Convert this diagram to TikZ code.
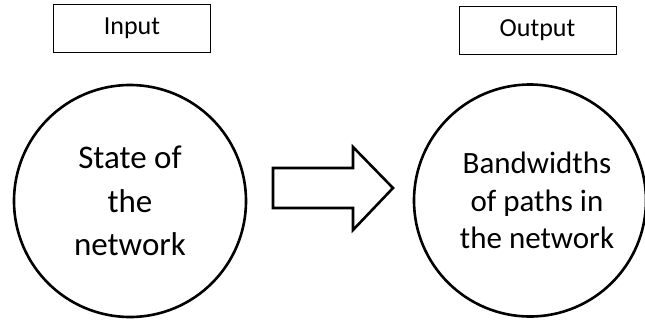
\documentclass[tikz,border=0pt]{standalone}
\usepackage{fontspec}
\setmainfont{Carlito}
\usetikzlibrary{positioning}

\begin{document}
\begin{tikzpicture}[x=1pt, y=-1pt,
  every node/.style={font=\fontsize{26}{30}\selectfont},
  labelbox/.style={draw, line width=1pt, minimum width=157pt, minimum height=48pt, inner sep=0pt},
  statecircle/.style={draw, circle, line width=2.6pt, minimum size=232pt, inner sep=0pt, align=center}]

  \useasboundingbox (0,0) rectangle (645,327);

  % Labels on top
  \node[labelbox] (inbox) at (132,28) {Input};
  \node[labelbox] (outbox) at (537.5,30) {Output};

  % Circles
  \node[statecircle, font=\fontsize{33}{43.5}\selectfont] (instate) at (130,201) {State of\\the\\network};
  \node[statecircle, font=\fontsize{31}{37.5}\selectfont] (outstate) at (530,200.5) {\hspace*{14pt}Bandwidths\\\hspace*{14pt}of paths in\\\hspace*{14pt}the network};

  % Block arrow
  \coordinate (tail) at (273,188);
  \draw[line width=2.6pt, line join=miter]
    (tail) ++(0,-20) -- ++(80,0) -- ++(0,-21) -- (393,188)
    -- (353,230) -- ++(0,-22) -- ++(-80,0) -- cycle;
\end{tikzpicture}
\end{document}
